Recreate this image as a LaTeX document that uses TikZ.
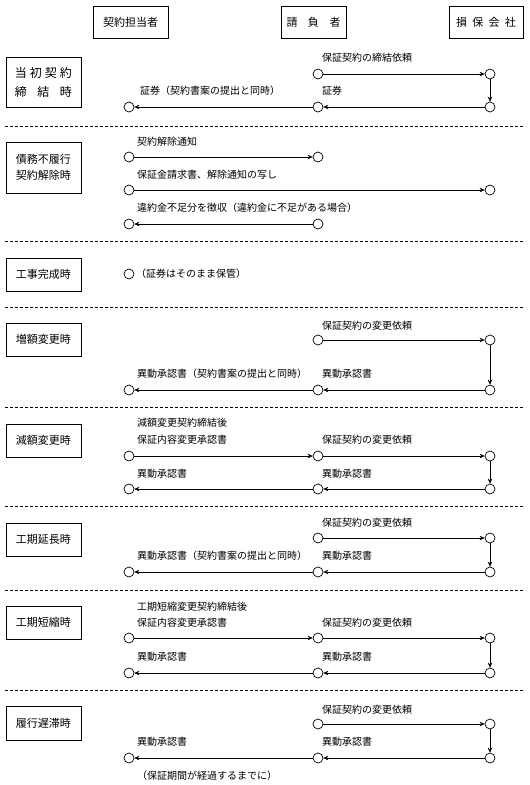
\documentclass[tikz,border=0pt]{standalone}
\usepackage{fontspec}
\newfontfamily\jp{Noto Sans CJK JP}
\usetikzlibrary{arrows.meta}
\begin{document}
\begin{tikzpicture}[x=1pt,y=-1pt,
  pt/.style={circle, draw, minimum size=10pt, inner sep=0pt, line width=0.7pt},
  arr/.style={-{Stealth[length=5pt,width=4.5pt]}, line width=0.7pt},
  lbl/.style={anchor=west, inner sep=0pt, font=\jp\fontsize{10}{12}\selectfont},
  hdr/.style={draw, line width=0.8pt, inner sep=0pt, font=\jp\fontsize{11}{13}\selectfont},
  rowbox/.style={draw, line width=0.8pt, inner sep=0pt, minimum width=75pt, align=center, font=\jp\fontsize{11}{16}\selectfont},
  sep/.style={dash pattern=on 3pt off 2pt, line width=0.7pt}]
\useasboundingbox (0,0) rectangle (530,785);
% headers
\node[hdr, minimum width=75pt, minimum height=32pt] (h1) at (130.5,22) {契約担当者};
\node[hdr, minimum width=65pt, minimum height=32pt] (h2) at (313.5,22) {\makebox[54pt][s]{請\hfill 負\hfill 者}};
\node[hdr, minimum width=74pt, minimum height=32pt] (h3) at (486,22) {\makebox[60pt][s]{損\hfill 保\hfill 会\hfill 社}};
% separators
\foreach \yy in {126,241,307,407,506,590,690}
  \draw[sep] (5,\yy) -- (525,\yy);
% Row 1
\node[rowbox, minimum height=50pt, font=\jp\fontsize{12}{19}\selectfont] (r1) at (43.5,82) {\makebox[57pt][s]{当\hfill 初\hfill 契\hfill 約}\\\makebox[57pt][s]{締\hfill 結\hfill 時}};
\node[pt] (a1m) at (318,74) {};
\node[pt] (a1r) at (490,74) {};
\node[pt] (b1r) at (490,107) {};
\node[pt] (b1m) at (318,107) {};
\node[pt] (b1l) at (129,107) {};
\draw[arr] (a1m) -- (a1r);
\draw[arr] (a1r) -- (b1r);
\draw[arr] (b1r) -- (b1m);
\draw[arr] (b1m) -- (b1l);
\node[lbl] (t1a) at (322,58) {保証契約の締結依頼};
\node[lbl] (t1b) at (140,91) {証券（契約書案の提出と同時）};
\node[lbl] (t1c) at (322,91) {証券};
% Row 2
\node[rowbox, minimum height=51pt] (r2) at (43.5,167.5) {債務不履行\\契約解除時};
\node[pt] (c2a) at (129,157) {};
\node[pt] (c2b) at (318,157) {};
\node[pt] (c2c) at (129,190) {};
\node[pt] (c2d) at (490,190) {};
\node[pt] (c2e) at (129,224) {};
\node[pt] (c2f) at (318,224) {};
\draw[arr] (c2a) -- (c2b);
\draw[arr] (c2c) -- (c2d);
\draw[arr] (c2f) -- (c2e);
\node[lbl] (t2a) at (137,142) {契約解除通知};
\node[lbl] (t2b) at (137,175) {保証金請求書、解除通知の写し};
\node[lbl] (t2c) at (137,208) {違約金不足分を徴収（違約金に不足がある場合）};
% Row 3
\node[rowbox, minimum height=33pt] (r3) at (43.5,274.5) {工事完成時};
\node[pt] (c3a) at (129,274) {};
\node[lbl] (t3a) at (136,274) {（証券はそのまま保管）};
% Row 4
\node[rowbox, minimum height=33pt] (r4) at (43.5,339.5) {増額変更時};
\node[pt] (a4m) at (318,340) {};
\node[pt] (a4r) at (490,340) {};
\node[pt] (b4r) at (490,390) {};
\node[pt] (b4m) at (318,390) {};
\node[pt] (b4l) at (129,390) {};
\draw[arr] (a4m) -- (a4r);
\draw[arr] (a4r) -- (b4r);
\draw[arr] (b4r) -- (b4m);
\draw[arr] (b4m) -- (b4l);
\node[lbl] (t4a) at (322,326) {保証契約の変更依頼};
\node[lbl] (t4b) at (137,374) {異動承認書（契約書案の提出と同時）};
\node[lbl] (t4c) at (322,374) {異動承認書};
% Row 5
\node[rowbox, minimum height=33pt] (r5) at (43.5,440.5) {減額変更時};
\node[pt] (a5l) at (129,456) {};
\node[pt] (a5m) at (318,456) {};
\node[pt] (a5r) at (490,456) {};
\node[pt] (b5r) at (490,489) {};
\node[pt] (b5m) at (318,489) {};
\node[pt] (b5l) at (129,489) {};
\draw[arr] (a5l) -- (a5m);
\draw[arr] (a5m) -- (a5r);
\draw[arr] (a5r) -- (b5r);
\draw[arr] (b5r) -- (b5m);
\draw[arr] (b5m) -- (b5l);
\node[lbl] (t5a) at (137,423) {減額変更契約締結後};
\node[lbl] (t5b) at (137,440) {保証内容変更承認書};
\node[lbl] (t5c) at (322,440) {保証契約の変更依頼};
\node[lbl] (t5d) at (137,474) {異動承認書};
\node[lbl] (t5e) at (322,474) {異動承認書};
% Row 6
\node[rowbox, minimum height=33pt] (r6) at (43.5,539.5) {工期延長時};
\node[pt] (a6m) at (318,538) {};
\node[pt] (a6r) at (490,538) {};
\node[pt] (b6r) at (490,572) {};
\node[pt] (b6m) at (318,572) {};
\node[pt] (b6l) at (129,572) {};
\draw[arr] (a6m) -- (a6r);
\draw[arr] (a6r) -- (b6r);
\draw[arr] (b6r) -- (b6m);
\draw[arr] (b6m) -- (b6l);
\node[lbl] (t6a) at (322,523) {保証契約の変更依頼};
\node[lbl] (t6b) at (137,556) {異動承認書（契約書案の提出と同時）};
\node[lbl] (t6c) at (322,556) {異動承認書};
% Row 7
\node[rowbox, minimum height=33pt] (r7) at (43.5,622.5) {工期短縮時};
\node[pt] (a7l) at (129,638) {};
\node[pt] (a7m) at (318,638) {};
\node[pt] (a7r) at (490,638) {};
\node[pt] (b7r) at (490,673) {};
\node[pt] (b7m) at (318,673) {};
\node[pt] (b7l) at (129,673) {};
\draw[arr] (a7l) -- (a7m);
\draw[arr] (a7m) -- (a7r);
\draw[arr] (a7r) -- (b7r);
\draw[arr] (b7r) -- (b7m);
\draw[arr] (b7m) -- (b7l);
\node[lbl] (t7a) at (137,607) {工期短縮変更契約締結後};
\node[lbl] (t7b) at (137,623) {保証内容変更承認書};
\node[lbl] (t7c) at (322,623) {保証契約の変更依頼};
\node[lbl] (t7d) at (137,657) {異動承認書};
\node[lbl] (t7e) at (322,657) {異動承認書};
% Row 8
\node[rowbox, minimum height=34pt] (r8) at (43.5,723) {履行遅滞時};
\node[pt] (a8m) at (318,724) {};
\node[pt] (a8r) at (490,724) {};
\node[pt] (b8r) at (490,758) {};
\node[pt] (b8m) at (318,758) {};
\node[pt] (b8l) at (129,758) {};
\draw[arr] (a8m) -- (a8r);
\draw[arr] (a8r) -- (b8r);
\draw[arr] (b8r) -- (b8m);
\draw[arr] (b8m) -- (b8l);
\node[lbl] (t8a) at (322,710) {保証契約の変更依頼};
\node[lbl] (t8b) at (137,742) {異動承認書};
\node[lbl] (t8c) at (322,742) {異動承認書};
\node[lbl] (t8d) at (137,776) {（保証期間が経過するまでに）};
\end{tikzpicture}
\end{document}
